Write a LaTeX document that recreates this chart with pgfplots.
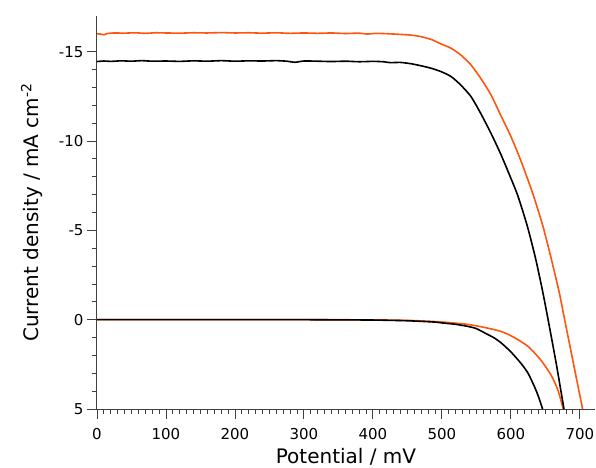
\documentclass[border=0pt]{standalone}
\usepackage{pgfplots}
\pgfplotsset{compat=1.18}
\usepackage{fontspec}
\setmainfont{DejaVu Sans}
\definecolor{myorange}{RGB}{255,85,15}
\begin{document}
\begin{tikzpicture}
\begin{axis}[
 scale only axis, width=498bp, height=393bp,
 xmin=0, xmax=722, ymin=-5, ymax=17,
 axis x line*=bottom, axis y line*=left,
 x axis line style={-}, y axis line style={-},
 axis line style={black!75, line width=1bp},
 tick style={black!75, line width=0.9bp},
 tick align=outside,
 major tick length=10bp, minor tick length=5bp,
 xtick={0,100,...,700}, minor x tick num=9,
 ytick={-5,0,5,10,15}, yticklabels={5,0,-5,-10,-15}, minor y tick num=4,
 y filter/.expression={-y},
 /pgf/number format/assume math mode=true,
 ticklabel style={font=\fontsize{15bp}{17bp}\selectfont},
 x tick label style={yshift=-6bp},
 label style={font=\fontsize{20bp}{24bp}\selectfont},
 xlabel={Potential / mV},
 xlabel style={at={(axis description cs:0.5,0)}, anchor=base, yshift=-54bp},
 ylabel={Current density / mA cm\textsuperscript{-2}},
 ylabel style={rotate=0, at={(axis description cs:-0.1165,0.5)}, anchor=base},
 every axis plot/.append style={line width=1.6bp, no markers},
]
% dark, orange
\addplot[myorange, smooth, tension=0.4] coordinates {
(0,0) (100,0) (200,0) (300,0) (350,0.005) (400,0.012) (450,0.04) (488,0.1) (510,0.16) (537,0.26) (560,0.42) (586,0.66) (605,1.0) (625,1.5) (643,2.24) (658,3.08) (668,3.92) (676,5)
};
% light, orange
\addplot[myorange, smooth, tension=0.4] coordinates {
(0,-16.00) (5,-15.99) (10,-15.95) (15,-16.02) (25,-16.05) (40,-16.04) (55,-16.06) (70,-16.03) (85,-16.06) (100,-16.05) (120,-16.04) (140,-16.06) (160,-16.05) (180,-16.07) (200,-16.05) (220,-16.06) (240,-16.04) (260,-16.06) (280,-16.03) (300,-16.05) (320,-16.03) (340,-16.05) (360,-16.02) (380,-16.04) (392,-15.99) (405,-16.03) (420,-16.01) (440,-15.97) (455,-15.93) (469,-15.85) (485,-15.68) (498,-15.45) (513,-15.2) (527,-14.83) (542,-14.27) (556,-13.53) (571,-12.6) (585,-11.47) (600,-10.26) (614,-8.95) (631,-7.15) (646,-5.3) (658,-3.5) (670,-1.55) (678,0) (691,2.5) (704,5)
};
% dark, black
\addplot[black, smooth, tension=0.4] coordinates {
(0,0) (100,0) (200,0) (300,0) (350,0.01) (400,0.02) (450,0.06) (488,0.13) (500,0.18) (520,0.26) (537,0.37) (550,0.5) (565,0.8) (575,1.0) (586,1.3) (600,1.8) (615,2.46) (625,3.0) (634,3.73) (640,4.3) (646,5)
};
% light, black
\addplot[black, smooth, tension=0.4] coordinates {
(0,-14.45) (10,-14.48) (20,-14.46) (35,-14.49) (50,-14.47) (65,-14.50) (80,-14.47) (100,-14.48) (120,-14.46) (140,-14.49) (160,-14.47) (180,-14.50) (200,-14.47) (220,-14.49) (240,-14.48) (260,-14.50) (275,-14.47) (287,-14.41) (300,-14.48) (320,-14.47) (340,-14.45) (360,-14.47) (380,-14.44) (400,-14.46) (415,-14.44) (425,-14.39) (440,-14.40) (455,-14.33) (469,-14.22) (484,-14.08) (498,-13.9) (513,-13.62) (527,-13.15) (542,-12.5) (556,-11.57) (571,-10.45) (585,-9.3) (597,-8.2) (610,-6.95) (624,-5.22) (636,-3.4) (646,-1.6) (654,0) (666,2.5) (677,5)
};
\end{axis}
\pgfresetboundingbox
\path (current axis.south west) ++(-97bp,-59bp) rectangle ([shift={(1bp,16bp)}]current axis.north east);
\end{tikzpicture}
\end{document}
